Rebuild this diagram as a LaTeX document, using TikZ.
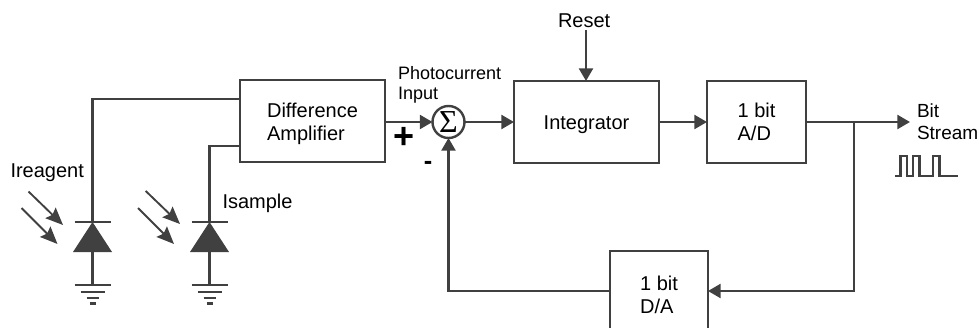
\documentclass[tikz,border=0pt]{standalone}
\usepackage{fontspec}
\setmainfont{Liberation Sans}
\newfontfamily\sigmafont{Liberation Serif}
\usetikzlibrary{arrows.meta,calc}
\definecolor{ink}{HTML}{404040}
\tikzset{
  wire/.style={draw=ink,line width=1.8pt},
  flow/.style={wire,-{Triangle[length=9.5pt,width=10.5pt,fill=ink,color=ink]}},
  ray/.style={draw=ink,line width=1.4pt,-{Stealth[length=13pt,width=11pt,inset=2pt,fill=ink,color=ink]}},
  blockbox/.style={draw=ink,line width=1.8pt,align=left,inner sep=0pt,outer sep=0pt,text=black,
    font=\fontsize{15}{17.25}\selectfont},
  lbl/.style={inner sep=0pt,outer sep=0pt,anchor=base west,text=black,align=left,
    font=\fontsize{15}{16.5}\selectfont},
  smalllbl/.style={lbl,font=\fontsize{13.5}{14.5}\selectfont},
  gnd/.style={draw=ink,line width=1.6pt},
  sumnode/.style={circle,draw=ink,line width=1.8pt,minimum size=24pt,inner sep=0pt,outer sep=0pt,fill=white,
    font=\sigmafont\fontsize{24}{24}\selectfont}
}
\begin{document}
\begin{tikzpicture}[x=0.75pt,y=-0.75pt]
\useasboundingbox (0,0) rectangle (979,328);
\clip (0,0) rectangle (979,328);
% blocks
\node[blockbox,minimum width=108.75pt,minimum height=61.5pt] (diff) at (312.5,121) {Difference\rule{0pt}{14.7pt}\\Amplifier};
\node[blockbox,minimum width=108.75pt,minimum height=61.5pt] (integ) at (586.5,122) {Integrator\rule{0pt}{14pt}};
\node[blockbox,minimum width=74.25pt,minimum height=61.5pt] (ad) at (756.5,122) {1 bit\\A/D};
\node[blockbox,minimum width=73.5pt,minimum height=66pt] (da) at (659,295) {1 bit\\D/A};
\node[sumnode] (sum) at (448.5,122) {\smash{\raisebox{-7.9pt}{Σ}}};
% labels
\node[lbl] (reset) at (558,27.5) {Reset};
\node[lbl] (ireagent) at (10.5,177) {Ireagent};
\node[lbl] (isample) at (222.5,209) {Isample};
\node[smalllbl] (photo) at (398,99) {Photocurrent\\Input};
\node[lbl,font=\fontsize{14.25}{16.5}\selectfont] (bits) at (917,139) {Bit\\Stream};
\node[inner sep=0pt,font=\fontsize{27}{27}\selectfont\bfseries] (plus) at (404,138) {+};
\node[inner sep=0pt,font=\fontsize{19}{19}\selectfont\bfseries] (minus) at (428,165) {-};
% signal path
\coordinate (resettop) at (586,30);
\coordinate (junc) at (854,122);
\coordinate (out) at (910,122);
\coordinate (fb) at (854,291);
\draw[flow] (resettop) -- (resettop |- integ.north);
\draw[flow] (diff.east |- sum.west) -- (sum.west);
\draw[flow] (sum.east) -- (integ.west |- sum.east);
\draw[flow] (integ.east) -- (ad.west);
\draw[flow] (ad.east) -- (out);
\draw[flow] (junc) -- (fb) -- (da.east |- fb);
\draw[flow] (da.west |- fb) -| (sum.south);
% photodiodes
\coordinate (inA) at (240,99);
\coordinate (inB) at (240,146);
\coordinate (dA) at (92.5,222);
\coordinate (dB) at (209.5,222);
\draw[wire] (inA) -| (dA);
\draw[wire] (inB) -| (dB);
\foreach \d in {dA,dB}{
  \fill[ink] (\d) -- ($(\d)+(19.5,30)$) -- ($(\d)+(-19.5,30)$) -- cycle;
  \draw[gnd] ($(\d)+(-18,0)$) -- ($(\d)+(18,0)$);
  \draw[wire] ($(\d)+(0,30)$) -- ($(\d)+(0,63)$);
  \draw[gnd] ($(\d)+(-18,63)$) -- ($(\d)+(18,63)$);
  \draw[gnd] ($(\d)+(-12,70)$) -- ($(\d)+(12,70)$);
  \draw[gnd] ($(\d)+(-6,76)$) -- ($(\d)+(6,76)$);
  \draw[gnd] ($(\d)+(-3,81.5)$) -- ($(\d)+(3,81.5)$);
}
\draw[ray] (28.5,191.5) -- (63,225);
\draw[ray] (21.5,208) -- (57.5,244);
\draw[ray] (145.7,191) -- (180,224);
\draw[ray] (138,208) -- (174,244);
% bit stream waveform
\draw[wire,line join=miter] (895,176) -- (900.5,176) -- (900.5,156) -- (907,156) -- (907,176)
  -- (913,176) -- (913,156) -- (919.5,156) -- (919.5,176) -- (933,176) -- (933,156) -- (939.5,156)
  -- (939.5,176) -- (958,176);
\end{tikzpicture}
\end{document}
